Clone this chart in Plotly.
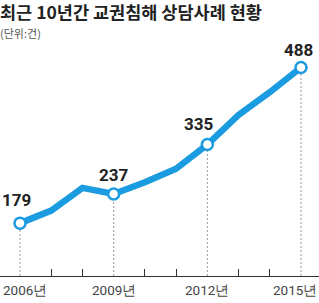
import plotly.graph_objects as go

years = [2006, 2007, 2008, 2009, 2010, 2011, 2012, 2013, 2014, 2015]
cases = [179, 204, 249, 237, 260, 287, 335, 394, 439, 488]
label_years = [2006, 2009, 2012, 2015]
label_text = ["2006년", "2009년", "2012년", "2015년"]
minor_years = [2007, 2008, 2010, 2011, 2013, 2014]

BLUE = "#1b9be0"
NUM_FONT = "Roboto, sans-serif"
label_vals = [cases[years.index(y)] for y in label_years]
Y0 = 74

fig = go.Figure()
for yr, v in zip(label_years, label_vals):
    fig.add_trace(go.Scatter(x=[yr, yr], y=[Y0, v], mode="lines",
                             line=dict(color="#999999", width=1, dash="2px,2px"),
                             hoverinfo="skip", showlegend=False))
fig.add_trace(go.Scatter(x=years, y=cases, mode="lines",
                         line=dict(color=BLUE, width=6.5), showlegend=False))
fig.add_trace(go.Scatter(x=label_years, y=label_vals, mode="markers",
                         marker=dict(size=11, color="white", line=dict(color=BLUE, width=2.5)),
                         showlegend=False))

# value labels
offsets = {2006: (-4, 23), 2009: (0, 19), 2012: (-8, 21), 2015: (-2, 18)}
for yr, v in zip(label_years, label_vals):
    dx, dy = offsets[yr]
    fig.add_annotation(x=yr, y=v, text=f"<b>{v}</b>", showarrow=False,
                       xshift=dx, yshift=dy,
                       font=dict(family=NUM_FONT, size=17, color="#222222"))

# x tick labels (edge ones kept inside the canvas)
anchors = {2006: ("left", -19), 2009: ("center", 0), 2012: ("center", 0), 2015: ("right", 18)}
for yr, txt in zip(label_years, label_text):
    xa, xs = anchors[yr]
    fig.add_annotation(x=yr, y=0, xref="x", yref="paper", yanchor="top", xanchor=xa,
                       text=txt, showarrow=False, xshift=xs, yshift=-4,
                       font=dict(family=NUM_FONT, size=13.5, color="#444444"))

fig.add_annotation(x=0, y=1, xref="paper", yref="paper", xanchor="left", yanchor="top",
                   text="<b>최근 10년간 교권침해 상담사례 현황</b>", showarrow=False,
                   xshift=-2, yshift=63,
                   font=dict(family="Noto Sans CJK KR", size=17.5, color="#222222"))
fig.add_annotation(x=0, y=1, xref="paper", yref="paper", xanchor="left", yanchor="top",
                   text="(단위:건)", showarrow=False, xshift=-2, yshift=37,
                   font=dict(family="Noto Sans CJK KR", size=11, color="#555555"))

fig.update_layout(
    width=319, height=303, margin=dict(l=0, r=0, t=60, b=27),
    paper_bgcolor="white", plot_bgcolor="white",
    xaxis=dict(range=[2005.359, 2015.577], tickvals=label_years, showticklabels=False,
               ticks="", showgrid=False, zeroline=False, showline=True,
               linecolor="#333333", linewidth=1.2, automargin=False,
               minor=dict(tickvals=minor_years, ticks="inside", ticklen=7,
                          tickcolor="#333333", tickwidth=1)),
    yaxis=dict(range=[Y0, 503], visible=False, automargin=False, fixedrange=True),
)

fig.write_html("out.html")
